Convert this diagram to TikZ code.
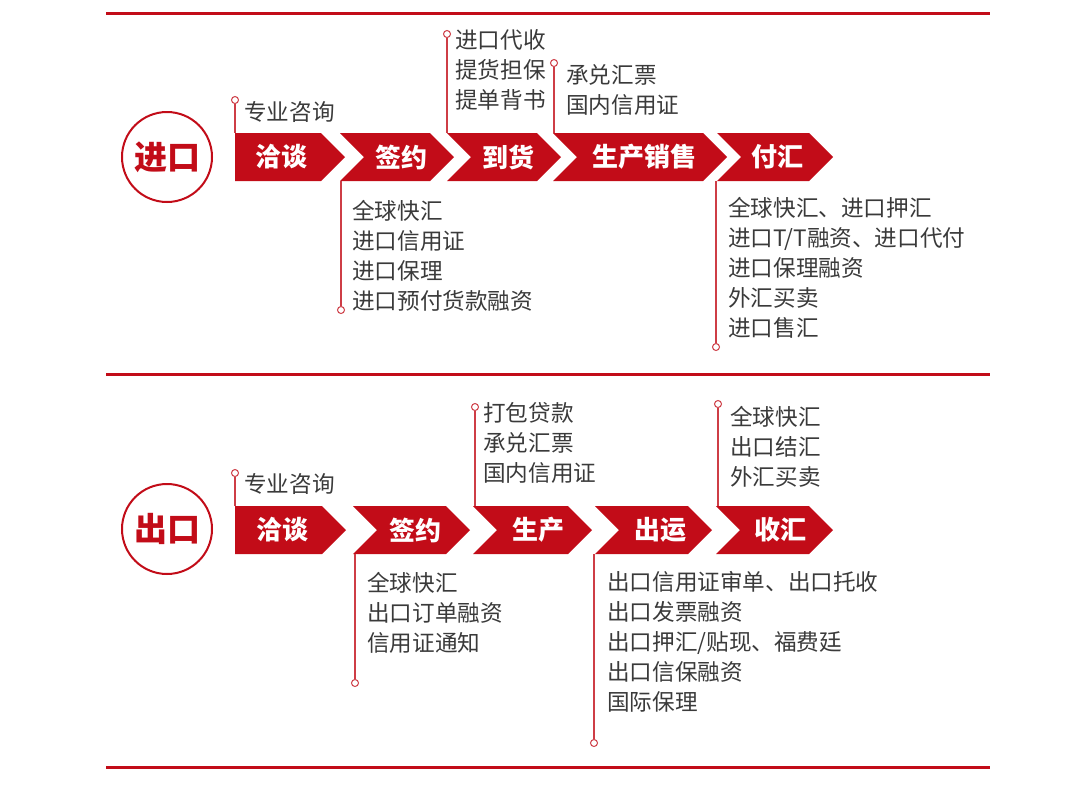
\documentclass[tikz,border=0pt]{standalone}
\usepackage{fontspec}
\setmainfont{Noto Sans CJK SC}
\usepackage{xcolor}

\definecolor{brandred}{RGB}{194,12,24}
\definecolor{notegray}{RGB}{58,58,58}

\tikzset{
  chev/.style={fill=brandred},
  steplabel/.style={text=white, font=\bfseries\fontsize{26}{30}\selectfont},
  badge/.style={circle, draw=brandred, line width=2pt, minimum size=90pt,
    text=brandred, font=\bfseries\fontsize{33}{36}\selectfont},
  notes/.style={anchor=west, align=left, text=notegray, inner sep=0pt,
    font=\fontsize{22.6}{30}\selectfont},
  tackdot/.style={circle, draw=brandred!80, fill=white, line width=1pt,
    minimum size=7pt, inner sep=0pt},
  stemline/.style={draw=brandred!80, line width=1.2pt},
  sepline/.style={draw=brandred, line width=3pt}
}

\begin{document}
\begin{tikzpicture}[x=1pt,y=-1pt]
\useasboundingbox (0,0) rectangle (1080,788);

% rules
\coordinate (r1a) at (106,13);  \coordinate (r1b) at (990,13);
\coordinate (r2a) at (106,374); \coordinate (r2b) at (990,374);
\coordinate (r3a) at (106,767); \coordinate (r3b) at (990,767);
\draw[sepline] (r1a) -- (r1b);
\draw[sepline] (r2a) -- (r2b);
\draw[sepline] (r3a) -- (r3b);

% import row
\node[badge] (imp) at (167,157) {进口};
\fill[chev] (235,133) -- (321,133) -- (345,157) -- (321,181) -- (235,181) -- cycle;
\fill[chev] (340,133) -- (430,133) -- (454,157) -- (430,181) -- (340,181) -- (364,157) -- cycle;
\fill[chev] (447,133) -- (537,133) -- (561,157) -- (537,181) -- (447,181) -- (471,157) -- cycle;
\fill[chev] (553,133) -- (703,133) -- (727,157) -- (703,181) -- (553,181) -- (577,157) -- cycle;
\fill[chev] (717,133) -- (809,133) -- (833,157) -- (809,181) -- (717,181) -- (741,157) -- cycle;
\node[steplabel] (iA) at (281,157) {洽谈};
\node[steplabel] (iB) at (401,157) {签约};
\node[steplabel] (iC) at (508,157) {到货};
\node[steplabel] (iD) at (644,157) {生产销售};
\node[steplabel] (iE) at (777,157) {付汇};

\coordinate (iAnw) at (235,133);
\coordinate (iBsw) at (341,181);
\coordinate (iCnw) at (447,133);
\coordinate (iDnw) at (554,133);
\coordinate (iEsw) at (716,181);
\node[tackdot] (iApin) at (235,100) {};
\node[tackdot] (iBpin) at (341,310) {};
\node[tackdot] (iCpin) at (447,34) {};
\node[tackdot] (iDpin) at (554,63) {};
\node[tackdot] (iEpin) at (716,347) {};
\draw[stemline] (iApin) -- (iAnw);
\draw[stemline] (iBpin) -- (iBsw);
\draw[stemline] (iCpin) -- (iCnw);
\draw[stemline] (iDpin) -- (iDnw);
\draw[stemline] (iEpin) -- (iEsw);

\node[notes] (iAnote) at (244,112) {专业咨询};
\node[notes] (iBnote) at (352,256) {全球快汇\\进口信用证\\进口保理\\进口预付货款融资};
\node[notes] (iCnote) at (455,70) {进口代收\\提货担保\\提单背书};
\node[notes] (iDnote) at (566,90) {承兑汇票\\国内信用证};
\node[notes] (iEnote) at (728,268) {全球快汇、进口押汇\\进口T/T融资、进口代付\\进口保理融资\\外汇买卖\\进口售汇};

% export row
\node[badge] (exp) at (167,529) {出口};
\fill[chev] (235,506) -- (322,506) -- (346,530) -- (322,554) -- (235,554) -- cycle;
\fill[chev] (353,506) -- (446,506) -- (470,530) -- (446,554) -- (353,554) -- (377,530) -- cycle;
\fill[chev] (473,506) -- (568,506) -- (592,530) -- (568,554) -- (473,554) -- (497,530) -- cycle;
\fill[chev] (595,506) -- (688,506) -- (712,530) -- (688,554) -- (595,554) -- (619,530) -- cycle;
\fill[chev] (716,506) -- (809,506) -- (833,530) -- (809,554) -- (716,554) -- (740,530) -- cycle;
\node[steplabel] (eA) at (282,530) {洽谈};
\node[steplabel] (eB) at (415,530) {签约};
\node[steplabel] (eC) at (538,530) {生产};
\node[steplabel] (eD) at (660,530) {出运};
\node[steplabel] (eE) at (780,530) {收汇};

\coordinate (eAnw) at (235,506);
\coordinate (eBsw) at (355,554);
\coordinate (eCnw) at (475,506);
\coordinate (eDsw) at (594,554);
\coordinate (eEnw) at (718,506);
\node[tackdot] (eApin) at (235,473) {};
\node[tackdot] (eBpin) at (355,683) {};
\node[tackdot] (eCpin) at (475,407) {};
\node[tackdot] (eDpin) at (594,743) {};
\node[tackdot] (eEpin) at (718,404) {};
\draw[stemline] (eApin) -- (eAnw);
\draw[stemline] (eBpin) -- (eBsw);
\draw[stemline] (eCpin) -- (eCnw);
\draw[stemline] (eDpin) -- (eDsw);
\draw[stemline] (eEpin) -- (eEnw);

\node[notes] (eAnote) at (244,484) {专业咨询};
\node[notes] (eBnote) at (367,613) {全球快汇\\出口订单融资\\信用证通知};
\node[notes] (eCnote) at (483,443) {打包贷款\\承兑汇票\\国内信用证};
\node[notes] (eDnote) at (607,642) {出口信用证审单、出口托收\\出口发票融资\\出口押汇/贴现、福费廷\\出口信保融资\\国际保理};
\node[notes] (eEnote) at (730,447) {全球快汇\\出口结汇\\外汇买卖};
\end{tikzpicture}
\end{document}
